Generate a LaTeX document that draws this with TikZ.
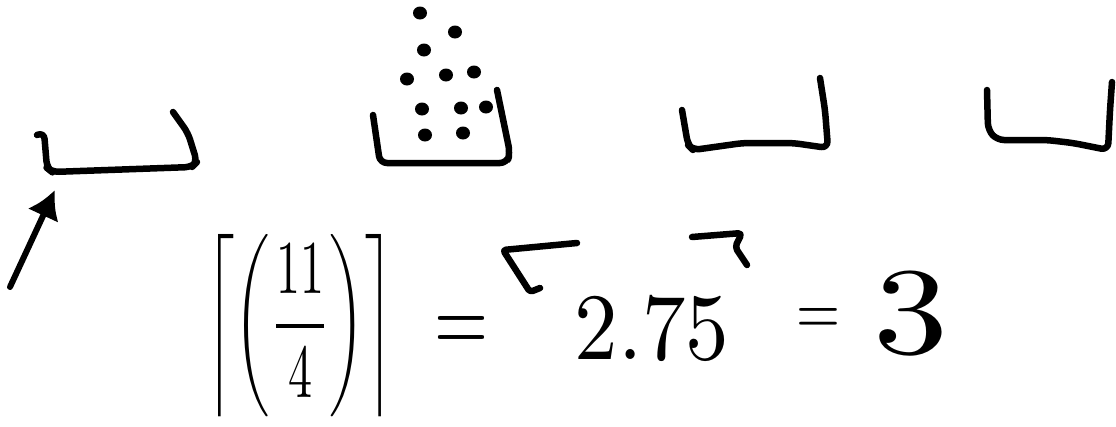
\documentclass[tikz,border=0pt]{standalone}
\usepackage{amsmath}
\usepackage{graphicx}
\usetikzlibrary{arrows.meta}

\begin{document}
\begin{tikzpicture}[x=1pt, y=-1pt,
    ink/.style={line width=6.5pt, line cap=round, line join=round, rounded corners=7pt},
    seed/.style={fill=black},
    sym/.style={inner sep=0pt, outer sep=0pt},
    arr/.style={-{Latex[length=28pt,width=34pt]}, line width=6pt, line cap=round}
]
\useasboundingbox (0,0) rectangle (1116,426);

% four buckets
\draw[ink] (37,135) -- (44,132) -- (47,168) -- (52,172) -- (192,167) -- (197,162) -- (188,133) -- (173,112);
\draw[ink] (373,115) -- (380,163) -- (437,163) -- (507,163) -- (510,153) -- (497,90);
\draw[ink] (682,110) -- (688,145) -- (693,150) -- (743,143) -- (793,143) -- (828,148) -- (825,110) -- (820,78);
\draw[ink] (987,90) -- (988,130) -- (997,140) -- (1047,140) -- (1073,143) -- (1108,150) -- (1110,110) -- (1112,82);

% seeds above the second bucket
\foreach \sx/\sy in {420/13, 455/32, 424/50, 407/79, 446/75, 474/72,
                     422/109, 461/108, 486/107, 425/135, 463/133}
  \fill[seed] (\sx,\sy) ellipse (7pt and 6.5pt);

% pointer to the first bucket
\coordinate (tail) at (10,287);
\coordinate (tip) at (55,190);
\draw[arr] (tail) -- (tip);

% ceiling of 11/4
\node[sym] (lhs) at (300,326) {\scalebox{4.8}[7.6]{$\left\lceil\left(\dfrac{11}{4}\right)\right\rceil$}};
\node[sym] (eqa) at (461,334) {\resizebox*{54pt}{36pt}{$=$}};
\node[sym] (val) at (652,329) {\scalebox{8.7}[9.5]{$2.75$}};
\node[sym] (eqb) at (818,321) {\resizebox*{44pt}{26pt}{$=$}};
\node[sym] (res) at (911,314) {\scalebox{15}[12.4]{$3$}};

% hand-drawn ceiling marks round 2.75
\draw[ink, rounded corners=3pt] (577,243) -- (503,250) -- (530,292) -- (540,288);
\draw[ink, rounded corners=4pt] (692,237) -- (742,233) -- (735,247) -- (747,265);
\end{tikzpicture}
\end{document}
